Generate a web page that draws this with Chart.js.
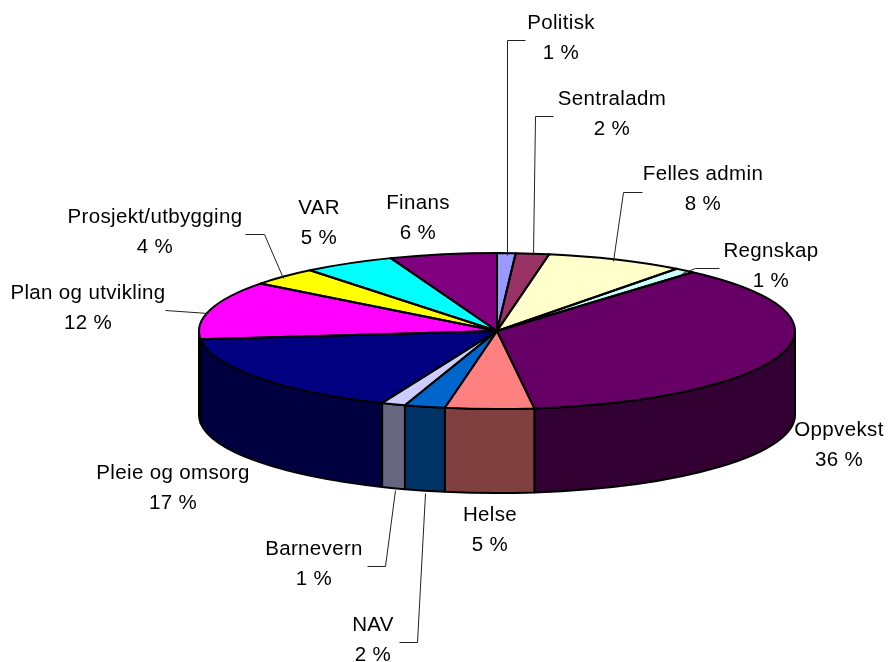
<!DOCTYPE html>
<html><head><meta charset="utf-8">
<style>html,body{margin:0;padding:0;background:#fff}canvas{display:block}</style>
<script src="https://cdn.jsdelivr.net/npm/chart.js@4"></script>
</head><body><canvas id="c" width="890" height="662"></canvas>
<script>
const categories = ['Politisk','Sentraladm','Felles admin','Regnskap','Oppvekst','Helse','NAV','Barnevern','Pleie og omsorg','Plan og utvikling','Prosjekt/utbygging','VAR','Finans'];
const values = [1.0,1.8,7.5,1.1,36.6,4.8,2.2,1.3,17.0,12.1,3.8,5.0,5.8];
const percentLabels = ['1 %','2 %','8 %','1 %','36 %','5 %','2 %','1 %','17 %','12 %','4 %','5 %','6 %'];
const topColors = ['#9999FF','#993366','#FFFFCC','#CCFFFF','#660066','#FF8080','#0066CC','#CCCCFF','#000080','#FF00FF','#FFFF00','#00FFFF','#800080'];
const wallColors = ['#4D4D80','#4D1A33','#808066','#668080','#330033','#804040','#003366','#666680','#000040','#800080','#808000','#008080','#400040'];
const labelAnchors = [[561,23],[612,99],[703,174],[771,251],[839,430],[490,515],[373,625],[314,549],[173,473],[88,293],[155,217],[319,208],[418,203]];
const lineGap = 30;
const leaders = [
 [[525,40],[507,40],[507,255]],
 [[553,116],[535,116],[533,255]],
 [[642,192],[623,192],[613,261]],
 [[719,268],[695,268],[682,273]],
 null,null,
 [[399,642],[417,642],[425,493]],
 [[367,566],[385,566],[395,490]],
 null,
 [[165,310],[208,313]],
 [[245,234],[264,234],[283,278]],
 null,null
];
const squash = 78/298, depth = 84;

function geom(arc){
  const p = arc.getProps(['x','y','startAngle','endAngle','outerRadius'], true);
  return {x:p.x,y:p.y,a0:p.startAngle,a1:p.endAngle,rx:p.outerRadius,ry:p.outerRadius*squash};
}
const tiltPlugin = {
  id:'tilt',
  beforeDatasetsDraw(chart){
    const ctx = chart.ctx, arcs = chart.getDatasetMeta(0).data;
    ctx.save();
    ctx.lineWidth = 2; ctx.strokeStyle = '#000'; ctx.lineJoin='round';
    arcs.forEach((arc,i)=>{
      const g = geom(arc);
      const s = Math.max(g.a0,0), e = Math.min(g.a1,Math.PI);
      if (e <= s) return;
      ctx.beginPath();
      ctx.ellipse(g.x,g.y,g.rx,g.ry,0,s,e);
      ctx.ellipse(g.x,g.y+depth,g.rx,g.ry,0,e,s,true);
      ctx.closePath();
      ctx.fillStyle = wallColors[i];
      ctx.fill(); ctx.stroke();
    });
    ctx.restore();
    const g0 = geom(arcs[0]);
    ctx.save();
    ctx.translate(g0.x,g0.y); ctx.scale(1,squash); ctx.translate(-g0.x,-g0.y);
  },
  afterDatasetsDraw(chart){
    const ctx = chart.ctx, arcs = chart.getDatasetMeta(0).data;
    ctx.restore();
    ctx.save();
    ctx.lineWidth = 2; ctx.strokeStyle = '#000'; ctx.lineJoin='round';
    arcs.forEach(arc=>{
      const g = geom(arc);
      ctx.beginPath();
      ctx.moveTo(g.x,g.y);
      ctx.ellipse(g.x,g.y,g.rx,g.ry,0,g.a0,g.a1);
      ctx.closePath();
      ctx.stroke();
    });
    ctx.restore();
  },
  afterDraw(chart){
    const ctx = chart.ctx;
    ctx.save();
    ctx.strokeStyle = '#222'; ctx.lineWidth = 1;
    leaders.forEach(l=>{
      if(!l) return;
      ctx.beginPath();
      l.forEach((p,i)=> i ? ctx.lineTo(p[0]+.5,p[1]+.5) : ctx.moveTo(p[0]+.5,p[1]+.5));
      ctx.stroke();
    });
    ctx.fillStyle = '#000';
    ctx.font = '20.5px "Liberation Sans", Arial, sans-serif';
    ctx.letterSpacing = '0.35px';
    ctx.textAlign = 'center'; ctx.textBaseline = 'middle';
    categories.forEach((name,i)=>{
      const [x,y] = labelAnchors[i];
      ctx.fillText(name,x,y);
      ctx.fillText(percentLabels[i],x,y+lineGap);
    });
    ctx.restore();
  }
};
new Chart(document.getElementById('c'),{
  type:'pie',
  data:{labels:categories,datasets:[{data:values,backgroundColor:topColors,borderWidth:0,clip:false}]},
  options:{
    responsive:false,animation:false,
    layout:{padding:{left:199,right:95,top:33,bottom:33}},
    plugins:{legend:{display:false},tooltip:{enabled:false},title:{display:false}},
    events:[]
  },
  plugins:[tiltPlugin]
});
</script></body></html>
